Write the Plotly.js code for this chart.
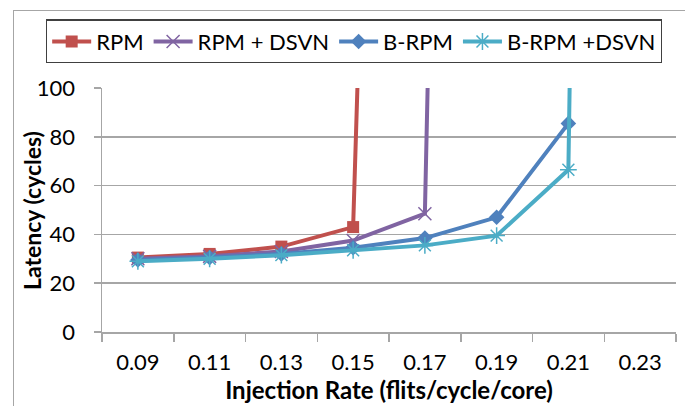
<!DOCTYPE html>
<html>
<head>
<meta charset="utf-8">
<script src="https://cdn.plot.ly/plotly-3.0.1.min.js"></script>
<style>
  html, body { margin: 0; padding: 0; background: #ffffff; }
  #frame { position: absolute; left: 13px; top: 10px; width: 700px; height: 420px;
           border-left: 1.5px solid #a6a6a6; border-top: 1.5px solid #a6a6a6; }
  #chart { position: absolute; left: 0; top: 0; width: 685px; height: 406px; }
</style>
</head>
<body>
<div id="frame"></div>
<div id="chart"></div>
<script>
// Categories (injection rate) and latency series
const categories = ['0.09', '0.11', '0.13', '0.15', '0.17', '0.19', '0.21', '0.23'];
const rpm       = [30.5, 32.0, 35.0, 43.0, 1000, null, null, null];
const rpmDsvn   = [30.0, 31.0, 33.0, 37.5, 48.5, 1400, null, null];
const bRpm      = [29.5, 30.5, 32.0, 34.5, 38.5, 47.0, 85.5, null];
const bRpmDsvn  = [29.0, 30.0, 31.5, 33.5, 35.5, 39.5, 66.5, 2000];
const seriesNames = ['RPM', 'RPM + DSVN', 'B-RPM', 'B-RPM +DSVN'];
const yTicks = [0, 20, 40, 60, 80, 100];

const FONT = 'Lato, "Open Sans", sans-serif';

const traces = [
  { name: seriesNames[0], y: rpm, color: '#C0504D',
    marker: { symbol: 'square', size: 12, color: '#C0504D' } },
  { name: seriesNames[1], y: rpmDsvn, color: '#8064A2',
    marker: { symbol: 'x-thin-open', size: 13, color: '#8064A2', line: { width: 1.5, color: '#8064A2' } } },
  { name: seriesNames[2], y: bRpm, color: '#4F81BD',
    marker: { symbol: 'diamond', size: 12, color: '#4F81BD' } },
  { name: seriesNames[3], y: bRpmDsvn, color: '#4BACC6',
    marker: { symbol: 'asterisk-open', size: 14, color: '#4BACC6', line: { width: 1.5, color: '#4BACC6' } } }
].map(t => ({
  type: 'scatter', mode: 'lines+markers', x: categories, y: t.y, name: t.name,
  line: { color: t.color, width: 4 }, marker: t.marker, connectgaps: false
}));

const layout = {
  width: 685, height: 406,
  margin: { l: 102, r: 9, t: 88, b: 74 },
  paper_bgcolor: 'rgba(0,0,0,0)', plot_bgcolor: 'rgba(0,0,0,0)',
  font: { family: FONT, size: 22, color: '#000000' },
  showlegend: true,
  legend: {
    orientation: 'h', x: -0.0976, xanchor: 'left', y: 1.1906, yanchor: 'middle',
    bordercolor: '#404040', borderwidth: 1.2, bgcolor: '#ffffff',
    font: { family: FONT, size: 22, color: '#000000' },
    itemwidth: 39, tracegroupgap: 0
  },
  xaxis: {
    type: 'category', categoryorder: 'array', categoryarray: categories,
    range: [-0.5, categories.length - 0.5], tickson: 'boundaries',
    ticks: 'outside', ticklen: 8, tickcolor: '#a6a6a6', tickwidth: 1.5,
    showline: true, linecolor: '#a6a6a6', linewidth: 1.5,
    showgrid: false, zeroline: false, ticklabelstandoff: 10,
    tickfont: { family: FONT, size: 22, color: '#000000' },
    title: { text: 'Injection Rate (flits/cycle/core)', standoff: 6,
             font: { family: FONT, size: 24, color: '#000000', weight: 'bold' } }
  },
  yaxis: {
    range: [0, 100], tickvals: yTicks, ticktext: yTicks.map(String),
    ticks: 'outside', ticklen: 7, tickcolor: '#a6a6a6', tickwidth: 1.5,
    showline: true, linecolor: '#a6a6a6', linewidth: 1.5,
    showgrid: true, gridcolor: '#a6a6a6', gridwidth: 1.5, zeroline: false,
    ticklabelstandoff: 14,
    tickfont: { family: FONT, size: 22, color: '#000000' }
  },
  annotations: [{
    text: 'Latency (cycles)', textangle: -90, showarrow: false,
    xref: 'paper', yref: 'paper', x: -0.122, y: 0.5, xanchor: 'center', yanchor: 'middle',
    font: { family: FONT, size: 23, color: '#000000', weight: 'bold' }
  }]
};

Plotly.newPlot('chart', traces, layout, { displayModeBar: false, staticPlot: true });
</script>
</body>
</html>
